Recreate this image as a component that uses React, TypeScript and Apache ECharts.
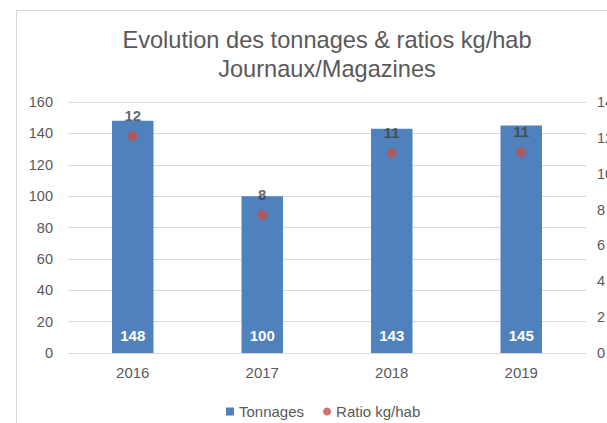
import React, { useEffect, useRef } from "react";
import * as echarts from "echarts";

const categories = ["2016", "2017", "2018", "2019"];
const tonnages = [148, 100, 143, 145];
const ratios = [12.1, 7.7, 11.15, 11.2];
const leftTicks = { min: 0, max: 160, interval: 20 };
const rightTicks = { min: 0, max: 14, interval: 2 };

const FONT = "'Liberation Sans', Arial, sans-serif";
const TXT = "#595959";

export default function App() {
  const ref = useRef<HTMLDivElement>(null);
  useEffect(() => {
    if (!ref.current) return;
    const chart = echarts.init(ref.current, null, { renderer: "svg" });
    chart.setOption({
      animation: false,
      backgroundColor: "#ffffff",
      textStyle: { fontFamily: FONT },
      graphic: [
        {
          type: "rect",
          shape: { x: 16.5, y: 10.5, width: 800, height: 600 },
          style: { fill: "none", stroke: "#d9d9d9", lineWidth: 1 },
          silent: true,
        },
      ],
      title: {
        text: "Evolution des tonnages & ratios kg/hab\nJournaux/Magazines",
        left: 322,
        top: 20,
        textAlign: "center",
        textStyle: {
          fontFamily: FONT,
          fontSize: 23.6,
          fontWeight: "normal",
          color: TXT,
          lineHeight: 29,
        },
      },
      legend: {
        left: 221,
        top: 399,
        itemWidth: 8,
        itemHeight: 8,
        itemGap: 19,
        textStyle: { fontFamily: FONT, fontSize: 15, color: TXT },
        data: [
          { name: "Tonnages", icon: "rect" },
          { name: "Ratio kg/hab", icon: "circle" },
        ],
      },
      grid: {
        left: 68,
        right: 21,
        top: 102,
        bottom: 70,
        outerBoundsMode: "none",
        containLabel: false,
      },
      xAxis: {
        type: "category",
        data: categories,
        axisLine: { lineStyle: { color: "#d9d9d9" } },
        axisTick: { show: false },
        axisLabel: { color: TXT, fontSize: 15, fontFamily: FONT, margin: 12 },
      },
      yAxis: [
        {
          type: "value",
          min: leftTicks.min,
          max: leftTicks.max,
          interval: leftTicks.interval,
          axisLine: { show: false },
          axisTick: { show: false },
          splitLine: { lineStyle: { color: "#d9d9d9" } },
          axisLabel: { color: TXT, fontSize: 14.5, fontFamily: FONT, margin: 15 },
        },
        {
          type: "value",
          min: rightTicks.min,
          max: rightTicks.max,
          interval: rightTicks.interval,
          axisLine: { show: false },
          axisTick: { show: false },
          splitLine: { show: false },
          axisLabel: { color: TXT, fontSize: 14.5, fontFamily: FONT, margin: 11 },
        },
      ],
      series: [
        {
          name: "Tonnages",
          type: "bar",
          data: tonnages,
          barWidth: "32%",
          itemStyle: { color: "#4F81BD" },
          label: {
            show: true,
            position: "insideBottom",
            distance: 10,
            color: "#ffffff",
            fontWeight: "bold",
            fontSize: 15,
            fontFamily: FONT,
          },
        },
        {
          name: "Ratio kg/hab",
          type: "scatter",
          yAxisIndex: 1,
          data: ratios,
          symbol: "circle",
          symbolSize: 10,
          itemStyle: { color: "#C0504D" },
          label: {
            show: true,
            position: "top",
            distance: 8,
            color: "#404040",
            fontWeight: "bold",
            fontSize: 15,
            fontFamily: FONT,
            formatter: (p: any) => String(Math.round(p.value)),
          },
        },
      ],
    });
    return () => chart.dispose();
  }, []);
  return (
    <div
      ref={ref}
      style={{ position: "absolute", left: 0, top: 0, width: 607, height: 423 }}
    />
  );
}
